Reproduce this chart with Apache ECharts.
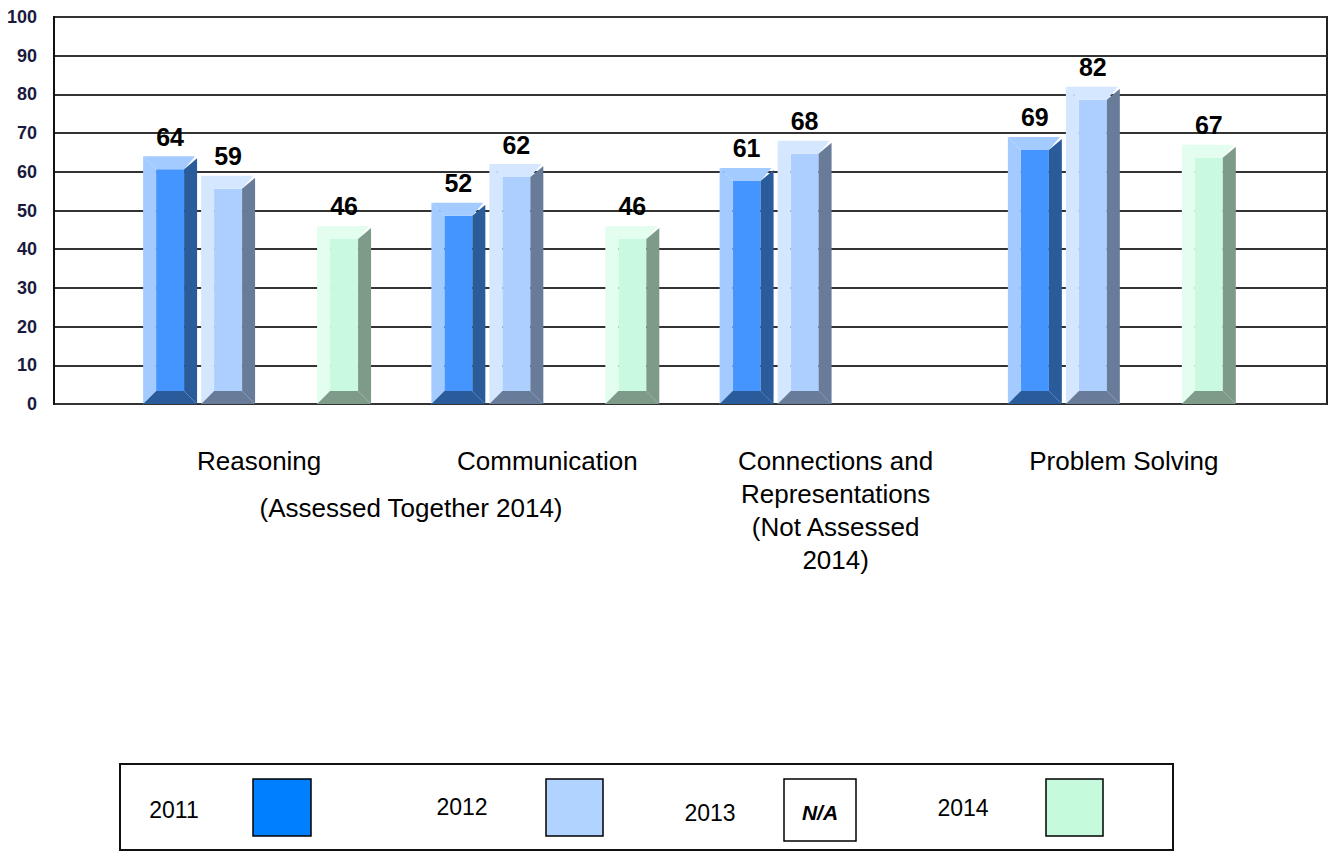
<!DOCTYPE html>
<html>
<head>
<meta charset="utf-8">
<style>
  html, body { margin: 0; padding: 0; background: #fff; }
  #chart { width: 1331px; height: 857px; }
</style>
<script src="https://cdn.jsdelivr.net/npm/echarts@6/dist/echarts.min.js"></script>
</head>
<body>
<div id="chart"></div>
<script>
// categories along the bottom
const categories = [
  'Reasoning',
  'Communication',
  'Connections and\nRepresentations\n(Not Assessed\n2014)',
  'Problem Solving'
];
const years = ['2011', '2012', '2013', '2014'];

// scores per year (2013 not available)
const values2011 = [64, 52, 61, 69];
const values2012 = [59, 62, 68, 82];
const values2013 = [null, null, null, null];
const values2014 = [46, 46, null, 67];

const yMin = 0;
const yMax = 100;
const yStep = 10;

const FONT = "'Liberation Sans', Arial, sans-serif";

// light bevel / front face / dark bevel
const palettes = [
  { light: '#a4cbff', front: '#4495ff', dark: '#2a5b9b', swatch: '#0080ff' },
  { light: '#d5e7ff', front: '#adcfff', dark: '#687c9a', swatch: '#b0d4ff' },
  { light: '#ffffff', front: '#ffffff', dark: '#ffffff', swatch: '#ffffff' },
  { light: '#e3feee', front: '#c9fadf', dark: '#7e9a88', swatch: '#c6fadc' }
];

// beveled "3D" bar drawn from the axis coords
function bevelBar(slot) {
  const pal = palettes[slot];
  return function (params, api) {
    const v = api.value(1);
    if (v == null || isNaN(v)) return null;
    const i = api.value(0);
    const top = api.coord([i, v]);
    const base = api.coord([i, 0]);
    const band = api.size([1, 0])[0];
    const pitch = band * 0.2012;
    const w = band * 0.1873;
    const x0 = top[0] - band * 0.4025 + slot * pitch;
    const x1 = x0 + w;
    const y0 = top[1];
    const y1 = base[1];
    const b = 13;
    return {
      type: 'group',
      children: [
        { type: 'rect', shape: { x: x0 + b, y: y0 + b, width: w - 2 * b, height: y1 - y0 - 2 * b }, style: { fill: pal.front } },
        { type: 'polygon', shape: { points: [[x0, y0], [x0 + b, y0 + b], [x0 + b, y1 - b], [x0, y1]] }, style: { fill: pal.light } },
        { type: 'polygon', shape: { points: [[x0, y0], [x1 - 2, y0], [x1 - b, y0 + b], [x0 + b, y0 + b]] }, style: { fill: pal.light } },
        { type: 'polygon', shape: { points: [[x1, y0 + 2], [x1, y1], [x1 - b, y1 - b], [x1 - b, y0 + b]] }, style: { fill: pal.dark } },
        { type: 'polygon', shape: { points: [[x0, y1], [x0 + b, y1 - b], [x1 - b, y1 - b], [x1, y1]] }, style: { fill: pal.dark } },
        {
          type: 'text',
          style: {
            text: String(v), x: (x0 + x1) / 2, y: y0 - 7,
            align: 'center', verticalAlign: 'bottom',
            font: 'bold 25px ' + FONT, fill: '#000'
          }
        }
      ]
    };
  };
}

const seriesValues = [values2011, values2012, values2013, values2014];

const chart = echarts.init(document.getElementById('chart'), null, { renderer: 'svg' });

const legendItems = [];
const legendText = [
  { x: 174, y: 810 }, { x: 462, y: 807 }, { x: 710, y: 813 }, { x: 963, y: 808 }
];
const legendBox = [
  { x: 253, y: 779, w: 58, h: 57 },
  { x: 546, y: 779, w: 57, h: 57 },
  { x: 784, y: 779, w: 72, h: 62 },
  { x: 1046, y: 779, w: 57, h: 57 }
];
legendItems.push({
  type: 'rect', shape: { x: 120, y: 764, width: 1053, height: 86 },
  style: { fill: '#fff', stroke: '#111', lineWidth: 2 }, z: 1
});
years.forEach((yr, k) => {
  legendItems.push({
    type: 'text', z: 2,
    style: { text: yr, x: legendText[k].x, y: legendText[k].y, align: 'center', verticalAlign: 'middle', font: '23px ' + FONT, fill: '#000' }
  });
  legendItems.push({
    type: 'rect', z: 2,
    shape: { x: legendBox[k].x, y: legendBox[k].y, width: legendBox[k].w, height: legendBox[k].h },
    style: { fill: palettes[k].swatch, stroke: '#000', lineWidth: 1.5 }
  });
});
legendItems.push({
  type: 'text', z: 3,
  style: { text: 'N/A', x: 820, y: 812, align: 'center', verticalAlign: 'middle', font: 'italic bold 21px ' + FONT, fill: '#000' }
});
legendItems.push({
  type: 'text', z: 3,
  style: { text: '(Assessed Together 2014)', x: 411, y: 508, align: 'center', verticalAlign: 'middle', font: '26px ' + FONT, fill: '#000' }
});

const option = {
  backgroundColor: '#fff',
  animation: false,
  grid: [
    { left: 54, right: 4, top: 17, bottom: 453, show: true, borderColor: '#222', borderWidth: 2, backgroundColor: 'transparent' },
    { left: 115, right: 63, top: 17, bottom: 453 }
  ],
  xAxis: [
    { gridIndex: 0, type: 'value', min: 0, max: 1, show: false },
    {
      gridIndex: 1,
      type: 'category',
      data: categories,
      axisLine: { show: false },
      axisTick: { show: false },
      axisLabel: {
        interval: 0, margin: 40, color: '#000',
        fontFamily: FONT, fontSize: 26, lineHeight: 33
      }
    }
  ],
  yAxis: [
    {
      gridIndex: 0,
      type: 'value',
      min: yMin, max: yMax, interval: yStep,
      axisLine: { show: true, lineStyle: { color: '#111', width: 2 } },
      axisTick: { show: false },
      axisLabel: { margin: 17, color: '#1a1a40', fontFamily: FONT, fontSize: 18, fontWeight: 'bold' },
      splitLine: { show: true, lineStyle: { color: '#333', width: 2 } }
    },
    { gridIndex: 1, type: 'value', min: yMin, max: yMax, show: false }
  ],
  series: seriesValues.map((vals, k) => ({
    name: years[k],
    type: 'custom',
    xAxisIndex: 1,
    yAxisIndex: 1,
    renderItem: bevelBar(k),
    encode: { x: 0, y: 1 },
    data: vals.map((v, i) => [i, v == null ? '-' : v]),
    z: 5
  })),
  graphic: legendItems
};

chart.setOption(option);
</script>
</body>
</html>
